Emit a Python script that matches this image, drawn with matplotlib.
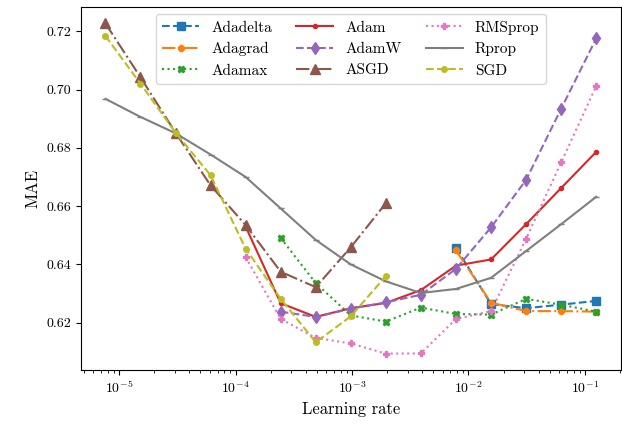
import matplotlib
matplotlib.use("Agg")
import matplotlib.pyplot as plt
import numpy as np

plt.rcParams.update({
    'font.family': 'serif',
    'font.serif': ['cmr10'],
    'mathtext.fontset': 'cm',
    'axes.formatter.use_mathtext': True,
    'axes.unicode_minus': False,
    'axes.labelsize': 12,
    'xtick.labelsize': 10,
    'ytick.labelsize': 10,
    'legend.fontsize': 11,
})

# learning rates 2^-17 ... 2^-3
lr = 2.0 ** np.arange(-17, -2)

adadelta = [np.nan] * 10 + [0.6457, 0.6264, 0.6250, 0.6262, 0.6275]
adagrad = [np.nan] * 10 + [0.6448, 0.6269, 0.6240, 0.6240, 0.6238]
adamax = [np.nan] * 5 + [0.6491, 0.6336, 0.6225, 0.6204, 0.6252, 0.6230,
                         0.6228, 0.6282, 0.6262, 0.6238]
adam = [np.nan] * 4 + [0.6530, 0.6267, 0.6220, 0.6250, 0.6268, 0.6312,
                       0.6396, 0.6417, 0.6538, 0.6662, 0.6786]
adamw = [np.nan] * 5 + [0.6238, 0.6220, 0.6248, 0.6270, 0.6296, 0.6385,
                        0.6527, 0.6690, 0.6934, 0.7175]
asgd = [0.7227, 0.7042, 0.6852, 0.6671, 0.6535, 0.6375, 0.6322, 0.6459, 0.6610]
rmsprop = [np.nan] * 4 + [0.6425, 0.6213, 0.6148, 0.6129, 0.6094, 0.6095,
                          0.6213, 0.6240, 0.6488, 0.6750, 0.7012]
rprop = [0.6968, 0.6906, 0.6850, 0.6777, 0.6700, 0.6592, 0.6484, 0.6400,
         0.6342, 0.6302, 0.6316, 0.6354, 0.6446, 0.6538, 0.6632]
sgd = [0.7184, 0.7020, 0.6852, 0.6706, 0.6454, 0.6282, 0.6133, 0.6222, 0.6360]

names = ['Adadelta', 'Adagrad', 'Adamax', 'Adam', 'AdamW', 'ASGD',
         'RMSprop', 'Rprop', 'SGD']
series = [adadelta, adagrad, adamax, adam, adamw, asgd, rmsprop, rprop, sgd]
styles = ['--', '-.', ':', '-', '--', '-.', ':', '-', '--']
markers = ['s', '8', 'X', '.', 'd', '^', 'P', '_', 'o']
msizes = [5.5, 5, 5, 6, 6.5, 7, 5, 5, 4]

fig, ax = plt.subplots(figsize=(6.22, 4.25), dpi=100)

for i, (name, vals) in enumerate(zip(names, series)):
    ax.plot(lr[:len(vals)], vals, linestyle=styles[i], marker=markers[i],
            markersize=msizes[i], color=f'C{i}', label=name, linewidth=1.5)

ax.set_xscale('log')
ax.set_xlabel('Learning rate')
ax.set_ylabel('MAE')
ax.set_yticks([0.62, 0.64, 0.66, 0.68, 0.70, 0.72])
ax.yaxis.set_major_formatter(matplotlib.ticker.FormatStrFormatter('%.2f'))
ax.legend(ncol=3, loc='upper center', handlelength=2.4, columnspacing=1.6)

fig.subplots_adjust(left=0.13, right=0.998, bottom=0.129, top=0.984)
fig.savefig('out.png', dpi=100)
